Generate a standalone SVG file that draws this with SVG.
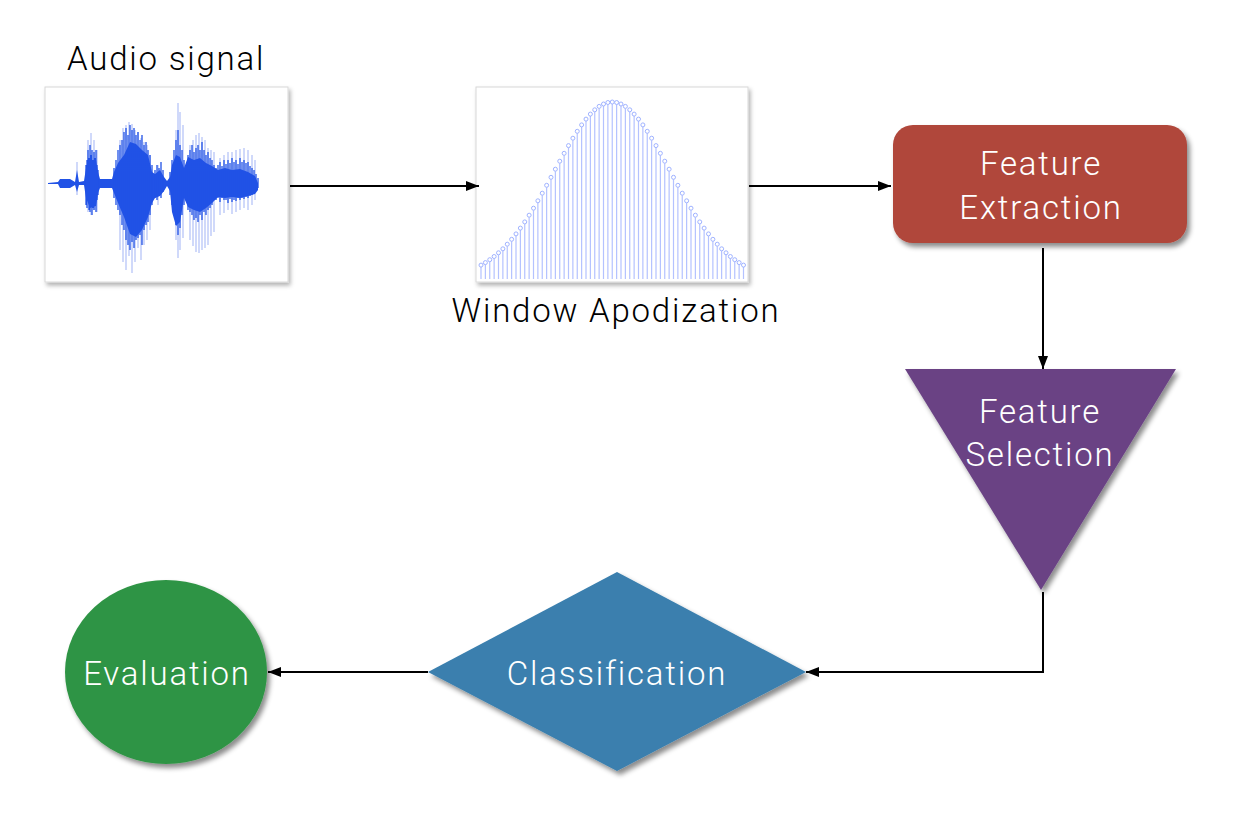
<svg xmlns="http://www.w3.org/2000/svg" width="1240" height="820" viewBox="0 0 1240 820">
<style>
  .lbl{font-family:Roboto,"Liberation Sans",sans-serif;font-weight:300;font-size:33px;letter-spacing:1.8px}
  .dark{fill:#000}
  .white{fill:#fff;text-anchor:middle}
  .conn{stroke:#000;stroke-width:2;fill:none}
  .frame{fill:#fff;stroke:#d8d8d8;stroke-width:1}
</style>
<defs>
  <marker id="arr" markerWidth="14" markerHeight="12" refX="13" refY="6" orient="auto" markerUnits="userSpaceOnUse">
    <path d="M0,1 L13,6 L0,11 Z" fill="#000"/>
  </marker>
  <marker id="dot" markerWidth="6" markerHeight="6" refX="3" refY="3" markerUnits="userSpaceOnUse">
    <circle cx="3" cy="3" r="2" fill="#fff" stroke="#9fb2ff" stroke-width="1"/>
  </marker>
  <filter id="sh" x="-10%" y="-10%" width="125%" height="130%">
    <feDropShadow dx="3" dy="4" stdDeviation="2.5" flood-color="#000" flood-opacity="0.45"/>
  </filter>
  <filter id="shs" x="-10%" y="-10%" width="125%" height="130%">
    <feDropShadow dx="2" dy="3" stdDeviation="2" flood-color="#000" flood-opacity="0.3"/>
  </filter>
</defs>

<g id="audio-signal">
  <text class="lbl dark" x="67" y="70">Audio signal</text>
  <rect class="frame" x="45" y="87" width="243" height="195" filter="url(#shs)"/>
  <path stroke="#8aa0f2" stroke-width="1" fill="none" opacity="0.8" d="M77 162V195 M88 140V212 M91 133V215 M94 140V210 M97 150V212 M120 140V250 M123 128V262 M126 125V270 M129 122V256 M132 124V273 M135 130V262 M138 132V248 M141 138V260 M144 142V245 M147 145V240 M150 155V230 M158 165V205 M176 130V240 M178 103V258 M180 112V250 M183 125V238 M190 145V240 M193 140V246 M196 135V252 M199 133V253 M202 137V250 M205 140V248 M208 148V245 M211 150V236 M214 152V232 M220 158V215 M224 155V213 M228 152V210 M232 152V214 M236 150V212 M240 149V210 M244 148V208 M248 150V210 M252 155V205 M255 160V200"/>
  <path fill="#2152e6" d="M48,183 L58,182 60,179 70,179 75,182 77,170 79,182 84,181 86,168 90,162 96,160 98,172 100,179 112,179 114,172 118,163 124,155 130,142 136,144 142,150 148,155 152,172 155,174 160,170 164,177 167,181 170,177 172,165 176,155 180,157 184,168 188,157 194,160 200,158 206,163 212,166 218,170 225,168 232,170 240,169 248,172 255,176 258,183 258,190 255,194 248,196 240,198 232,197 225,198 218,197 212,203 206,208 200,212 194,210 188,207 184,198 180,222 176,226 172,212 170,191 167,186 164,191 160,196 155,198 152,203 148,217 142,230 136,237 130,234 124,217 118,203 114,193 112,188 100,188 98,193 96,206 90,208 86,198 84,185 79,185 77,192 75,185 70,188 60,188 58,184 48,184 Z"/>
  <path stroke="#2152e6" stroke-width="1.3" fill="none" d="M86 165V205 M87 160V208 M88 150V200 M89 158V210 M90 145V212 M91 155V205 M92 150V215 M93 160V208 M94 152V210 M95 158V205 M96 150V212 M97 165V200 M98 170V195 M114 168V198 M116 160V205 M118 150V210 M120 145V215 M122 140V225 M124 132V230 M126 128V240 M128 135V245 M130 125V250 M132 130V242 M134 128V248 M136 135V240 M138 132V238 M140 140V235 M142 135V245 M144 145V230 M146 142V225 M148 150V222 M150 155V215 M152 165V205 M155 170V198 M157 165V200 M159 168V195 M161 162V198 M163 170V192 M170 172V195 M172 160V205 M174 150V215 M176 140V225 M178 130V235 M180 145V228 M182 150V215 M184 160V205 M186 168V198 M188 155V210 M190 150V212 M192 145V215 M194 152V220 M196 148V218 M198 145V222 M200 150V215 M202 142V220 M204 150V212 M206 155V215 M208 152V210 M210 158V208 M212 160V205 M214 165V200 M216 168V200 M218 165V198 M220 162V202 M222 166V198 M224 160V200 M226 164V200 M228 160V203 M230 163V199 M232 158V202 M234 162V200 M236 160V201 M238 164V198 M240 158V200 M242 162V198 M244 160V199 M246 163V197 M248 162V198 M250 166V196 M252 168V195 M254 170V194 M256 174V191 M258 178V188"/>
</g>

<g id="window-apodization">
  <rect class="frame" x="476" y="87" width="272" height="195" filter="url(#shs)"/>
  <path stroke="#b4c2ff" stroke-width="1.2" fill="none" d="M481 267.1V279 M485.375 264.6V279 M489.75 261.7V279 M494.125 258.5V279 M498.5 254.8V279 M502.875 250.8V279 M507.25 246.2V279 M511.625 241.3V279 M516 235.9V279 M520.375 230.1V279 M524.75 223.9V279 M529.125 217.2V279 M533.5 210.2V279 M537.875 202.8V279 M542.25 195.2V279 M546.625 187.3V279 M551 179.3V279 M555.375 171.2V279 M559.75 163.2V279 M564.125 155.3V279 M568.5 147.6V279 M572.875 140.2V279 M577.25 133.3V279 M581.625 126.9V279 M586 121.1V279 M590.375 116.1V279 M594.75 111.8V279 M599.125 108.4V279 M603.5 106V279 M607.875 104.5V279 M612.25 104V279 M616.625 104.5V279 M621 106V279 M625.375 108.4V279 M629.75 111.8V279 M634.125 116.1V279 M638.5 121.1V279 M642.875 126.9V279 M647.25 133.3V279 M651.625 140.2V279 M656 147.6V279 M660.375 155.3V279 M664.75 163.2V279 M669.125 171.2V279 M673.5 179.3V279 M677.875 187.3V279 M682.25 195.2V279 M686.625 202.8V279 M691 210.2V279 M695.375 217.2V279 M699.75 223.9V279 M704.125 230.1V279 M708.5 235.9V279 M712.875 241.3V279 M717.25 246.2V279 M721.625 250.8V279 M726 254.8V279 M730.375 258.5V279 M734.75 261.7V279 M739.125 264.6V279 M743.5 267.1V279"/>
  <polyline fill="none" stroke="none" marker-start="url(#dot)" marker-mid="url(#dot)" marker-end="url(#dot)" points="481,265.1 485.375,262.6 489.75,259.7 494.125,256.5 498.5,252.8 502.875,248.8 507.25,244.2 511.625,239.3 516,233.9 520.375,228.1 524.75,221.9 529.125,215.2 533.5,208.2 537.875,200.8 542.25,193.2 546.625,185.3 551,177.3 555.375,169.2 559.75,161.2 564.125,153.3 568.5,145.6 572.875,138.2 577.25,131.3 581.625,124.9 586,119.1 590.375,114.1 594.75,109.8 599.125,106.4 603.5,104 607.875,102.5 612.25,102 616.625,102.5 621,104 625.375,106.4 629.75,109.8 634.125,114.1 638.5,119.1 642.875,124.9 647.25,131.3 651.625,138.2 656,145.6 660.375,153.3 664.75,161.2 669.125,169.2 673.5,177.3 677.875,185.3 682.25,193.2 686.625,200.8 691,208.2 695.375,215.2 699.75,221.9 704.125,228.1 708.5,233.9 712.875,239.3 717.25,244.2 721.625,248.8 726,252.8 730.375,256.5 734.75,259.7 739.125,262.6 743.5,265.1"/>
  <text class="lbl dark" x="616" y="322" text-anchor="middle">Window Apodization</text>
</g>

<g id="feature-extraction">
  <rect x="893" y="125" width="294" height="118" rx="20" fill="#b0463a" filter="url(#sh)"/>
  <text class="lbl white" x="1041" y="175">Feature</text>
  <text class="lbl white" x="1041" y="219">Extraction</text>
</g>

<g id="feature-selection">
  <polygon points="905,369 1176,369 1041,590" fill="#6b4384" filter="url(#sh)"/>
  <text class="lbl white" x="1040" y="423">Feature</text>
  <text class="lbl white" x="1040" y="466">Selection</text>
</g>

<g id="classification">
  <polygon points="617,572 806,672 617,771 428,672" fill="#3a7fae" filter="url(#sh)"/>
  <text class="lbl white" x="617" y="685">Classification</text>
</g>

<g id="evaluation">
  <ellipse cx="166" cy="672" rx="101" ry="92" fill="#2f9444" filter="url(#sh)"/>
  <text class="lbl white" x="167" y="685">Evaluation</text>
</g>

<g id="connectors">
  <line class="conn" x1="290" y1="186" x2="479" y2="186" marker-end="url(#arr)"/>
  <line class="conn" x1="749" y1="186" x2="891" y2="186" marker-end="url(#arr)"/>
  <line class="conn" x1="1043" y1="248" x2="1043" y2="369" marker-end="url(#arr)"/>
  <polyline class="conn" points="1043,592 1043,672 806,672" marker-end="url(#arr)"/>
  <line class="conn" x1="428" y1="672" x2="268" y2="672" marker-end="url(#arr)"/>
</g>
</svg>
